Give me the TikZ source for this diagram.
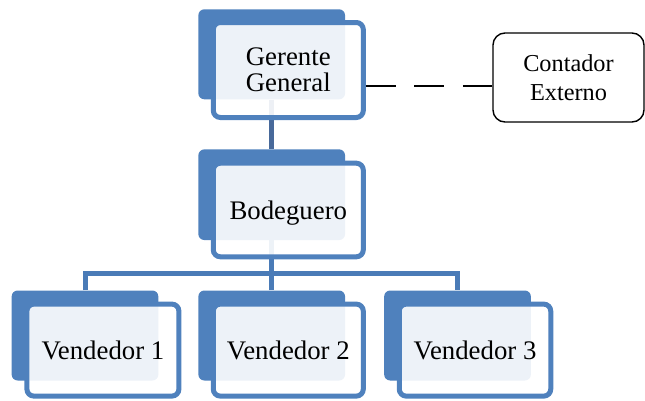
\documentclass[tikz,border=0pt]{standalone}
\usepackage{fontspec}
\setmainfont{Liberation Serif}
\definecolor{obl}{HTML}{4F81BD}
\definecolor{conn}{HTML}{4A7BB7}
\definecolor{conntop}{HTML}{48699A}
\begin{document}
\begin{tikzpicture}[x=1pt,y=-1pt,
  backbox/.style={rectangle, rounded corners=6pt, fill=obl, draw=none,
    minimum width=146.7pt, minimum height=90pt, inner sep=0pt},
  frontbox/.style={rectangle, rounded corners=7pt, draw=obl, line width=5pt,
    fill=white, fill opacity=0.9, text opacity=1, minimum width=150pt,
    minimum height=93pt, inner sep=0pt, align=center,
    font=\fontsize{26.8}{26}\selectfont},
  oneline/.style={text height=18pt, text depth=0pt},
  link/.style={draw=conn, line width=5pt},
  dashline/.style={draw=black, line width=1.4pt, dash pattern=on 30pt off 18.5pt},
  extbox/.style={rectangle, rounded corners=12pt, draw=black, line width=1.4pt,
    fill=white, minimum width=151pt, minimum height=89pt, inner sep=0pt,
    align=center, font=\fontsize{24.3}{29}\selectfont}]
\useasboundingbox (0,0) rectangle (645,400);

% back boxes
\node[backbox] (gg-back) at (271.7,54.3) {};
\node[backbox, minimum height=90.7pt] (bod-back) at (271.7,194.7) {};
\node[backbox] (v1-back) at (85,335.5) {};
\node[backbox] (v2-back) at (271.7,335.5) {};
\node[backbox] (v3-back) at (457.5,335.5) {};

% connectors (behind front boxes)
\coordinate (bar) at (271.7,273);
\draw[link, draw=conntop] (gg-back.south) -- (bod-back.north);
\draw[link] (bod-back.south) -- (bar);
\draw[link] (v1-back.north) |- (bar) -| (v3-back.north);
\draw[link] (v2-back.north) -- (bar);

% front boxes
\node[frontbox, minimum height=95pt] (gg-front) at (288.3,70) {Gerente\\General};
\node[frontbox, oneline, minimum height=93.6pt] (bod-front) at (288.3,210) {Bodeguero};
\node[frontbox, oneline, minimum width=152pt, minimum height=92pt] (v1-front) at (102.9,350.1) {Vendedor 1};
\node[frontbox, oneline, minimum height=92pt] (v2-front) at (288.3,350.1) {Vendedor 2};
\node[frontbox, oneline, minimum width=151.5pt, minimum height=92pt] (v3-front) at (475,350.1) {Vendedor 3};

% external accountant
\node[extbox] (ce) at (568.5,77.5) {Contador\\Externo};
\coordinate (dy) at (0,86);
\draw[dashline] (gg-front.east |- dy) -- (ce.west |- dy);
\end{tikzpicture}
\end{document}
